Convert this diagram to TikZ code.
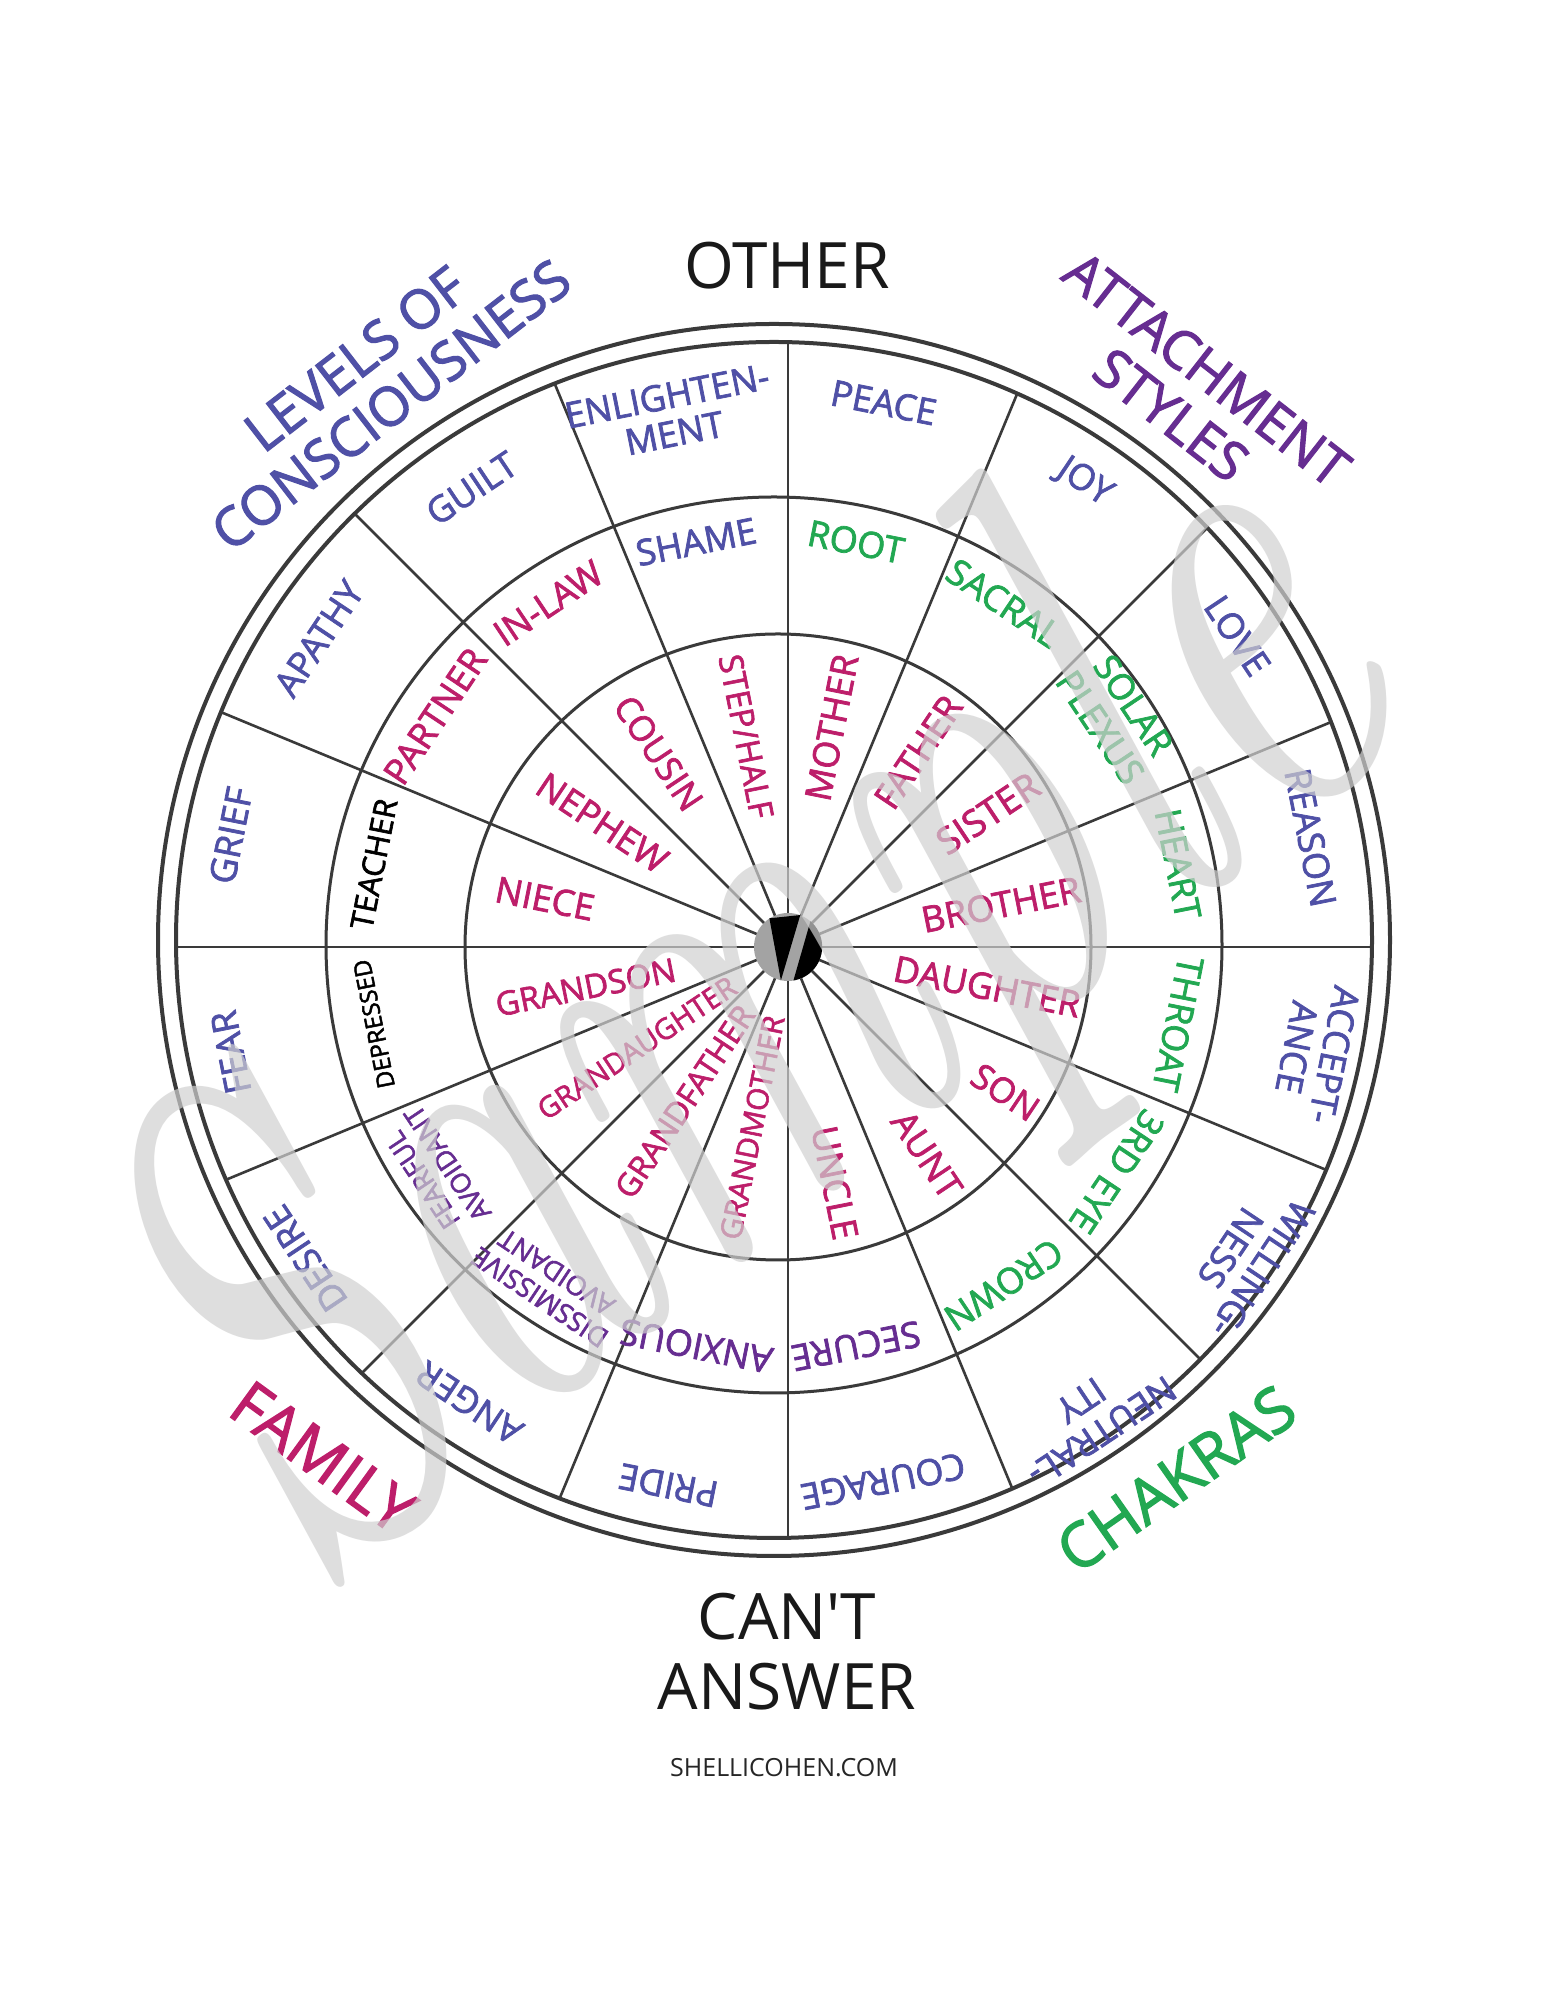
\documentclass[tikz,border=0pt]{standalone}
\usepackage{fontspec}
\newfontfamily\osans{Open Sans}
\newfontfamily\osemi{Open Sans}[FakeBold=2]
\newfontfamily\markfont{lmroman10-italic.otf}
\definecolor{LevelBlue}{HTML}{4F50A6}
\definecolor{AttachPurple}{HTML}{662D91}
\definecolor{FamilyRed}{HTML}{BD1E6A}
\definecolor{ChakraGreen}{HTML}{22A852}
\definecolor{RimGray}{HTML}{3A3A3A}
\definecolor{HubGray}{HTML}{A3A3A3}
\definecolor{MarkGray}{HTML}{D0D0D0}

\begin{document}
\begin{tikzpicture}[x=1pt,y=1pt,
    rim/.style={draw=RimGray,line width=4},
    ring/.style={draw=RimGray,line width=3},
    spoke/.style={draw=RimGray,line width=2.6},
    lvl/.style={font={\osemi\fontsize{36}{38}\selectfont},align=center,inner sep=0pt,text=LevelBlue},
    kin/.style={inner sep=0pt,text=FamilyRed},
    head/.style={font={\osemi\fontsize{54}{58}\selectfont},align=center,inner sep=0pt},
    title/.style={font={\osans\fontsize{64}{70}\selectfont},align=center,inner sep=0pt,text=black!90}
  ]
  \useasboundingbox[fill=white] (0,0) rectangle (1545,2000);
  \coordinate (H) at (788,1053);   % hub of the spokes
  \coordinate (C) at (776,1056);   % centre for the ring labels
  \coordinate (R1) at (778,1053);
  \coordinate (R2) at (774,1055);
  \coordinate (R3) at (774,1060);

  % spokes
  \begin{scope}
    \clip (R3) circle (598);
    \foreach \a in {0,22.5,...,337.5}
      \draw[spoke] (H) -- ++(\a:720);
  \end{scope}

  % rings
  \draw[ring] (R1) circle (313);
  \draw[ring] (R2) circle (448);
  \draw[rim] (R3) circle (598);
  \draw[rim] (R3) circle (616);

  % hub
  \node[circle,fill=HubGray,minimum size=68,inner sep=0pt] (hub) at (H) {};
  \fill (hub.49) arc[start angle=49,end angle=-81,radius=34] -- cycle;
  \fill (hub.123) -- (hub.69) -- (hub.258) -- cycle;

  % levels of consciousness (outer ring)
  \foreach \txt/\r [count=\k from 0] in {PEACE/552,JOY/555,LOVE/555,REASON/545,{ACCEPT-\\ANCE}/550,
      {WILLING-\\NESS}/566,{NEUTRAL-\\ITY}/568,COURAGE/548,PRIDE/552,ANGER/552,DESIRE/566,
      FEAR/556,GRIEF/556,APATHY/550,GUILT/548,{ENLIGHTEN-\\MENT}/540}{
    \pgfmathsetmacro\ang{78.75-22.5*\k}
    \node[lvl,rotate=\ang-90] (outer\k) at ([shift={(\ang:\r)}]C) {\txt};
  }

  % middle ring
  \foreach \txt/\col/\fs/\bs [count=\k from 0] in {ROOT/ChakraGreen/36/38,SACRAL/ChakraGreen/36/38,
      {SOLAR\\PLEXUS}/ChakraGreen/36/40,HEART/ChakraGreen/36/38,THROAT/ChakraGreen/36/38,
      {3RD EYE}/ChakraGreen/36/38,CROWN/ChakraGreen/36/38,SECURE/AttachPurple/36/38,
      ANXIOUS/AttachPurple/36/38,{DISSMISSIVE\\AVOIDANT}/AttachPurple/27/30,
      {FEARFUL\\AVOIDANT}/AttachPurple/27/30,DEPRESSED/black/24/26,TEACHER/black/31/33,
      PARTNER/FamilyRed/36/38,IN-LAW/FamilyRed/36/38,SHAME/LevelBlue/36/38}{
    \pgfmathsetmacro\ang{78.75-22.5*\k}
    \node[font={\osemi\fontsize{\fs}{\bs}\selectfont},align=center,inner sep=0pt,
      text=\col,rotate=\ang-90] (mid\k) at ([shift={(\ang:410)}]C) {\txt};
  }

  % family (inner ring), read along the spokes
  \foreach \txt/\fs [count=\k from 0] in {MOTHER/36,FATHER/36,SISTER/37,BROTHER/36,DAUGHTER/36,
      SON/35,AUNT/36,UNCLE/36,GRANDMOTHER/30,GRANDFATHER/32,GRANDAUGHTER/29,GRANDSON/33,
      NIECE/36,NEPHEW/36,COUSIN/35,{STEP/HALF}/33}{
    \pgfmathsetmacro\ang{78.75-22.5*\k}
    \ifnum\k<8
      \node[kin,font={\osemi\fontsize{\fs}{\fs}\selectfont},rotate=\ang,anchor=east]
        (inner\k) at ([shift={(\ang:298)}]H) {\txt};
    \else
      \node[kin,font={\osemi\fontsize{\fs}{\fs}\selectfont},rotate=\ang+180,anchor=west]
        (inner\k) at ([shift={(\ang:298)}]H) {\txt};
    \fi
  }

  % headings round the wheel
  \node[title] (other) at (787,1734) {OTHER};
  \node[title] (cant) at (787,348) {CAN\textquotesingle T\\ANSWER};
  \node[font={\osans\fontsize{25}{25}\selectfont},text=black!85] (site) at (784,232) {SHELLICOHEN.COM};
  \node[head,text=LevelBlue,rotate=37.7] (levels) at (373,1618) {LEVELS OF\\CONSCIOUSNESS};
  \node[head,text=AttachPurple,rotate=-38] (attach) at (1189,1608) {ATTACHMENT\\STYLES};
  \node[head,text=FamilyRed,rotate=-36,font={\osemi\fontsize{62}{62}\selectfont}] (family) at (323,543) {FAMILY};
  \node[head,text=ChakraGreen,rotate=35,font={\osemi\fontsize{62}{62}\selectfont}] (chakras) at (1176,521) {CHAKRAS};

  % watermark
  \node[text=MarkGray,opacity=0.7,rotate=38,yscale=1.5,
    font={\markfont\fontsize{455}{455}\selectfont}] (sample) at (755,976) {Sample};
\end{tikzpicture}
\end{document}
